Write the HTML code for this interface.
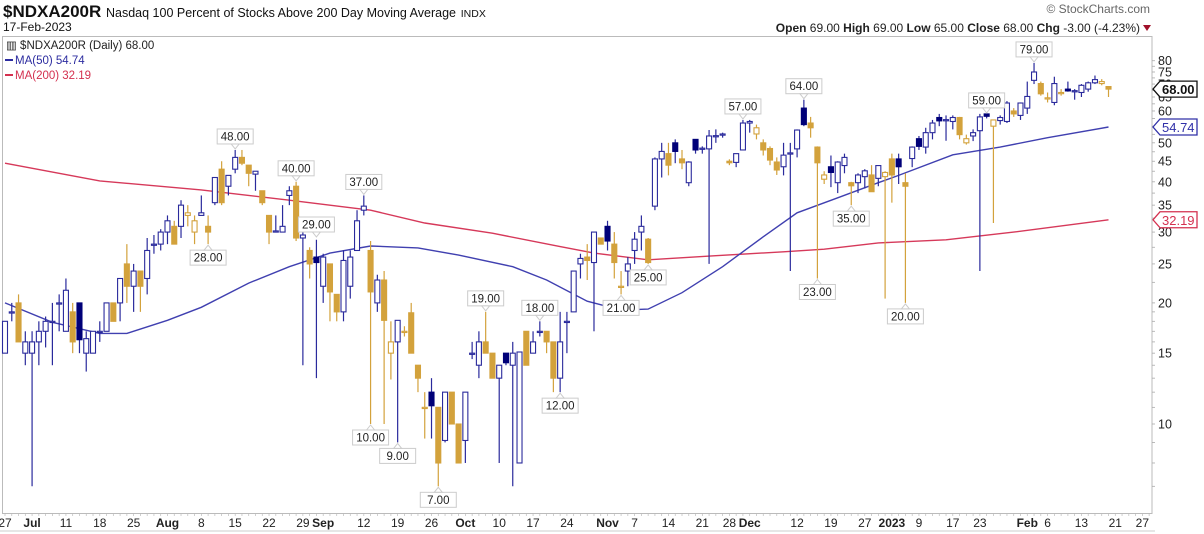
<!DOCTYPE html>
<html><head><meta charset="utf-8"><title>$NDXA200R</title>
<style>
html,body{margin:0;padding:0;background:#fff;width:1204px;height:534px;overflow:hidden}
svg{display:block}
text{font-family:"Liberation Sans",sans-serif}
</style></head>
<body>
<svg id="chart" width="1204" height="534" viewBox="0 0 1204 534" xmlns="http://www.w3.org/2000/svg">
  <text x="3" y="17" font-size="17" font-weight="bold" fill="#111">$NDXA200R <tspan font-size="12.5" font-weight="normal">Nasdaq 100 Percent of Stocks Above 200 Day Moving Average</tspan> <tspan font-size="10.5" font-weight="normal">INDX</tspan></text>
  <text x="3" y="31" font-size="12" fill="#111">17-Feb-2023</text>
  <text x="1150" y="13" font-size="12" fill="#666" text-anchor="end">© StockCharts.com</text>
  <text x="1140" y="32" font-size="12" fill="#222" text-anchor="end"><tspan font-weight="bold">Open</tspan> 69.00  <tspan font-weight="bold">High</tspan> 69.00  <tspan font-weight="bold">Low</tspan> 65.00  <tspan font-weight="bold">Close</tspan> 68.00  <tspan font-weight="bold">Chg</tspan> -3.00 (-4.23%)</text>
  <polygon points="1143,25 1151,25 1147,31" fill="#a0102a"/>
  <rect x="2.5" y="36.5" width="1149.5" height="477" fill="#fff" stroke="#bbb" stroke-width="1"/>
  <g id="grid"></g>
  <g id="ma"></g>
  <g id="candles"></g>
  <g id="annos"></g>
  <g id="yaxis"></g>
  <g id="xaxis"></g>
  <g>
    <text x="6" y="49" font-size="11.5" fill="#222">▥ $NDXA200R (Daily) 68.00</text>
    <line x1="5" y1="60" x2="13" y2="60" stroke="#2c2ca0" stroke-width="2"/>
    <text x="15" y="64" font-size="11.5" fill="#2c2ca0">MA(50) 54.74</text>
    <line x1="5" y1="75" x2="13" y2="75" stroke="#d4304f" stroke-width="2"/>
    <text x="15" y="79" font-size="11.5" fill="#d4304f">MA(200) 32.19</text>
  </g>
  <line x1="0" y1="531" x2="1155" y2="531" stroke="#ccc"/>
</svg>
<script>
const opens=[15,19,20,15,15,16,17,18,20,17,19,20,15,15,17,17,20,20,25,22,24,23,28,28,30,31,31,33,30,33,31,35.5,43,39,43,46,44,41.8,38,33,30,30,37,39,29,27,26,22,25,21,19,22,27,34,27,20,22.8,15,16,17,18.9,14,11,12,11,9.1,12,10,9.1,15,14,16,15,13,15,14,8,17,15,17,17,16,13,18,19,25,26,25.2,29,31,28,22,24,27,30,28.8,34.8,45.6,47,50,45.6,39.8,51,48.2,48.3,52,52.5,45,44.7,48,56,52.6,50,48.4,44.8,43.6,47,48.3,61,56,48.8,40.6,43.6,39.8,43.9,39.8,39.8,41.2,41.6,40.8,41.2,45.6,45.6,39.8,45.7,51.2,48.8,53,57.8,57,56.5,57.8,50,52,53.6,59,55,56.8,56.5,60,58.5,61,71.5,70.2,64.5,63,66.5,68,67,66.7,68,70.5,70.2,69];
const highs=[18,20,21,17,17,18,18.5,20,21,23,20,20,17,17,18,20,20,23,28,25,24,29,29.5,30.5,33,32,36,35,33,37,33,41,45,41.5,48,48,44,42.5,38,33,33,35,39,40,30,27.5,28.7,26.5,25,21,27,27,34,37,28.5,23.5,24,18,18.1,17.5,20,14,12,13,11,12,12,10,12,16,17,19,15,14,15,16,15,17,17,18,17,16,19,19,24,26.5,28,30,29,32,30,24,26,30,33,29,46,50,50,51,48,45,51,49,53.8,54,53,45.5,47,57,57,55.5,51,49,46,50,50,54,64,58,49,42.5,46.5,45,47,40,42,43,44,44,42.5,47,47,42,49,52,54.5,57,59,58.5,58.5,58,52.4,54,59,59,57,58.5,63.5,61,63,71,79,71,66.7,73,68,71,68,70,71,73.5,72,69];
const lows=[15,18,16,14,7,14,15.5,14,17,17,15,15,13.5,15,16,17,18,18,20,19,19,21,26.5,27,28,28,29,31,28,33,28,35,35,37,42,44,39,38,35,28,30,30,35,28.5,14,23,13,20,18,18,18,20.5,27,33,10,19,10,12.9,9,16.5,15,12,9.2,9.2,7,9,10,8,8,14.5,13,15,13,8,14,7,8,14,15,16.5,15,12,12,15,19,23,22.8,17,28,27,23,21,22,25,27,25,34,41,41.5,44.5,43,39,47,47,25,50,51.5,44,43.5,48,53,51,46.5,44,41.6,41.5,24,46,55,51.5,23,39.5,38.8,37.5,42,35,37.5,38.5,37.8,39,20.5,35.5,39.5,20,43.5,48,47,51,55,50.6,54,51,49.5,50.5,24,57.5,31.6,55.5,56,58,57,59,70,65.5,63,62,65.5,67,64,65,67,70,69.5,65];
const closes=[18,19,16,16,16,17,18,18,20,21.5,16,16.2,16.3,17,17,20,18,23,22,24,22,27,28,30,32,28,35,33.5,32,33.5,30,41,35.5,41.5,46,44.5,42,42.5,35.5,30,30.2,31,38,29,29.5,25,25.2,26,21.3,19,25.5,26,32,34.8,21.3,22.8,18.1,16,18.1,17,15,13,11,11.1,8,12,10,8,12,15,16,15,13,14,14.2,15,15.1,14,16,17,16,13,16,18,24,25.8,25.5,30,28,28.5,25.2,22,25,28.8,31,25.2,45.6,47.6,44,47.6,44.6,44.8,48,48.5,52,52.1,52.6,44.6,47,56,56.5,54.5,48,45.3,42.8,46.6,47.2,53.8,55.5,54.5,44.6,41.6,42.2,44.8,46,39.1,41.6,42.6,37.8,43.9,42.2,41.6,43.6,39,48.8,49,53,56,56.7,57.1,57.8,52.4,51.2,53,58,58.2,57,57.8,62.8,59,62.8,65.2,75,66.2,64.7,70.2,66.7,67.3,67.4,69.5,70.5,71.8,71,68];
const ma50Idx=[0,7,14,18,24,29,36,42,48,54,61,67,75,80,86,91,95,100,106,112,117,123,129,132,140,147,154,163];
const ma50Vals=[20,17.9,16.8,16.8,18.1,19.5,22.4,24.6,26.6,27.7,27.4,26.3,24.6,22.8,20.2,19.2,19.3,21.2,24.6,29.2,33.5,36.5,39.8,41.5,46.7,48.8,51.5,54.74];
const ma200Idx=[0,14,29,42,54,62,72,82,87,95,105,115,121,129,139,149,163];
const ma200Vals=[44.5,40.2,38.2,36,34,31.6,29.8,27.6,26.6,25.6,26.2,26.8,27.2,28.2,28.7,30,32.19];
const yTicks=[80,75,70,65,60,50,45,40,35,30,25,20,15,10];
const annoIdx=[34,30,43,46,53,54,58,64,71,79,82,91,95,109,118,120,125,133,145,152];
const annoVal=[48,28,40,29,37,10,9,7,19,18,12,21,25,57,64,23,35,20,59,79];
const annoSide=['a','b','a','a','a','b','b','b','a','a','b','b','b','a','a','b','b','b','a','a'];
const xTickIdx=[0,4,9,14,19,24,29,34,39,44,47,53,58,63,68,73,78,83,89,93,98,103,107,110,117,122,127,131,135,140,144,151,154,159,164,168];
const xTickLbl=['27','Jul','11','18','25','Aug','8','15','22','29','Sep','12','19','26','Oct','10','17','24','Nov','7','14','21','28','Dec','12','19','27','2023','9','17','23','Feb','6','13','21','27'];
const xTickBold=[0,1,0,0,0,1,0,0,0,0,1,0,0,0,1,0,0,0,1,0,0,0,0,1,0,0,0,1,0,0,0,1,0,0,0,0];

const NS='http://www.w3.org/2000/svg';
const X0=5, DX=6.77, Y10=424, K=174.7;
function xs(i){return X0+i*DX;}
function ys(v){return Y10-K*Math.log(v/10);}
function mk(tag,attrs,parent){const e=document.createElementNS(NS,tag);for(const k in attrs)e.setAttribute(k,attrs[k]);parent.appendChild(e);return e;}
const BLUE='#2a2a9c', GOLD='#d3a23c', NAVY='#000078';

// moving averages
const gMA=document.getElementById('ma');
function maPath(idx,vals){return idx.map((i,k)=>(k?'L':'M')+xs(i).toFixed(1)+','+ys(vals[k]).toFixed(1)).join(' ');}
const p200=mk('path',{d:maPath(ma200Idx,ma200Vals),fill:'none',stroke:'#d6395a','stroke-width':1.4},gMA);


const p50=mk('path',{d:maPath(ma50Idx,ma50Vals),fill:'none',stroke:'#4040b0','stroke-width':1.4},gMA);



// candles
const gC=document.getElementById('candles');
for(let i=0;i<closes.length;i++){
  const o=opens[i],h=highs[i],l=lows[i],c=closes[i];
  const up = i===0 ? true : c>=closes[i-1];
  const col = up?BLUE:GOLD;
  const x=xs(i);
  const g=mk('g',{},gC);
  
  
  mk('line',{x1:x,x2:x,y1:ys(h),y2:ys(l),stroke:col,'stroke-width':1.2},g);
  const top=ys(Math.max(o,c)), bot=ys(Math.min(o,c));
  const hgt=Math.max(bot-top,1.2);
  const filled=c<o;
  mk('rect',{x:x-2.5,y:top,width:5,height:hgt,fill:filled?(up?NAVY:GOLD):'#fff',stroke:filled?(up?NAVY:GOLD):col,'stroke-width':1.1},g);
}

// annotations
const gA=document.getElementById('annos');
for(let k=0;k<annoIdx.length;k++){
  const x=xs(annoIdx[k]); const v=annoVal[k]; const y=ys(v);
  const g=mk('g',{},gA);
  
  
  const w=36,h=15;
  let by, py1, py2;
  if(annoSide[k]==='a'){ by=y-6-h; py1=by+h; py2=y-1; }
  else { by=y+6; py1=by; py2=y+1; }
  mk('rect',{x:x-w/2,y:by,width:w,height:h,fill:'#fff',stroke:'#ccc','stroke-width':1},g);
  mk('polygon',{points:`${x-4},${py1} ${x+4},${py1} ${x},${py2}`,fill:'#fff',stroke:'#ccc','stroke-width':1},g);
  const t=mk('text',{x:x,y:by+11.5,'font-size':11.5,'text-anchor':'middle',fill:'#222'},g);
  t.textContent=v.toFixed(2);
}

// y axis
const gY=document.getElementById('yaxis');
for(let v=7;v<=80;v+=(v<20?1:(v<50?2.5:2.5))){
  const yy=ys(v);
  const m=mk('line',{x1:1152,x2:1155,y1:yy,y2:yy,stroke:'#aaa','stroke-width':0.8},gY);
  
  
}
for(const v of yTicks){
  const yy=ys(v);
  const t=mk('text',{x:1158,y:yy+4.5,'font-size':12.5,fill:'#222'},gY);
  
  
  t.textContent=String(v);
}
function tag(v,color,bold,name){
  const yy=ys(v);
  const g=mk('g',{},gY);
  
  
  mk('polygon',{points:`1153,${yy} 1160,${yy-8} 1197,${yy-8} 1197,${yy+8} 1160,${yy+8}`,fill:'#fff',stroke:color,'stroke-width':1.3},g);
  const t=mk('text',{x:1162,y:yy+5,'font-size':13,fill:color,'font-weight':bold?'bold':'normal'},g);
  t.textContent=v.toFixed(2);
}
tag(68,'#111',true,'last-price-tag');
tag(54.74,'#3030a8',false,'ma50-tag');
tag(32.19,'#d4304f',false,'ma200-tag');

// x axis
const gX=document.getElementById('xaxis');
for(let i=0;i<=169;i++){
  const x=xs(i);
  const m=mk('line',{x1:x,x2:x,y1:513,y2:516,stroke:'#bbb','stroke-width':0.7},gX);
  
  
}
for(let k=0;k<xTickIdx.length;k++){
  const x=xs(xTickIdx[k]);
  const t=mk('text',{x:x,y:527,'font-size':12,'text-anchor':'middle',fill:'#222','font-weight':xTickBold[k]?'bold':'normal'},gX);
  
  
  t.textContent=xTickLbl[k];
}
</script>
</body></html>
